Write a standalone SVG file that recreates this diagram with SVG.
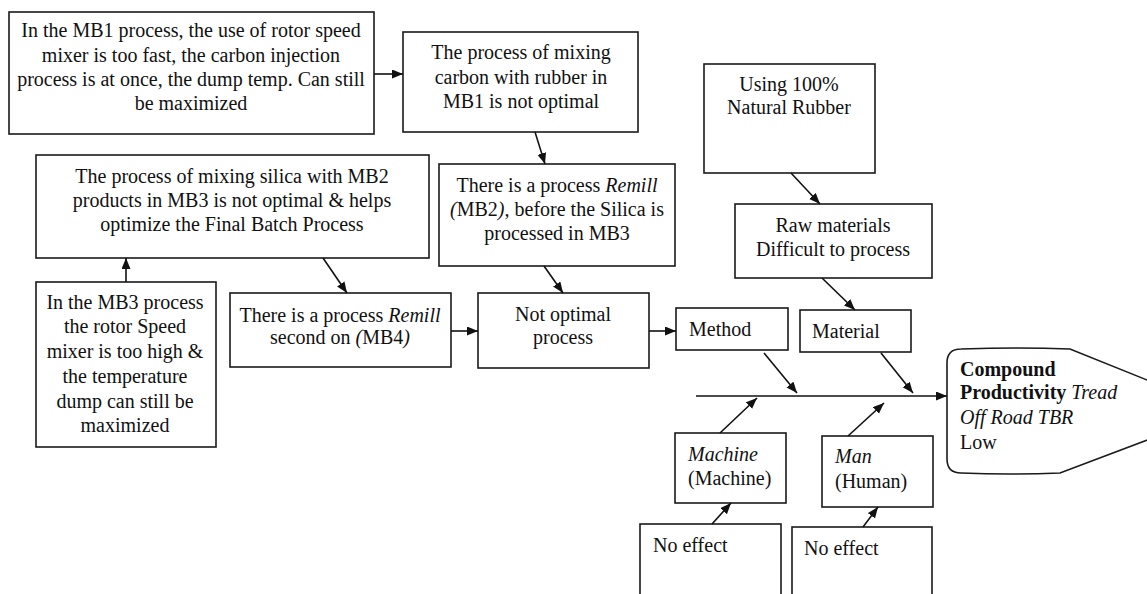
<svg xmlns="http://www.w3.org/2000/svg" width="1147" height="594" viewBox="0 0 1147 594">
<defs>
<style>
.box{fill:#fff;stroke:#1a1a1a;stroke-width:1.6}
.t{font-family:'Liberation Serif','DejaVu Serif',serif;font-size:20px;fill:#111}
.c{text-anchor:middle}
.i{font-style:italic}
.b{font-weight:bold}
.ln{stroke:#111;stroke-width:1.6;fill:none;marker-end:url(#ah)}
</style>
<marker id="ah" markerUnits="userSpaceOnUse" markerWidth="12" markerHeight="10" refX="11" refY="4.5" orient="auto">
<path d="M0,0 L11,4.5 L0,9 Z" fill="#111"/>
</marker>
</defs>
<rect width="1147" height="594" fill="#fff"/>

<g id="n1">
<rect class="box" x="9" y="12" width="365" height="122"/>
<text class="t c" x="191" y="37">In the MB1 process, the use of rotor speed</text>
<text class="t c" x="191" y="61.5">mixer is too fast, the carbon injection</text>
<text class="t c" x="191" y="86">process is at once, the dump temp. Can still</text>
<text class="t c" x="191" y="110">be maximized</text>
</g>

<g id="n2">
<rect class="box" x="403" y="32" width="235" height="100"/>
<text class="t c" x="521" y="59">The process of mixing</text>
<text class="t c" x="521" y="84">carbon with rubber in</text>
<text class="t c" x="521" y="108">MB1 is not optimal</text>
</g>

<g id="n3">
<rect class="box" x="439" y="164" width="236" height="102"/>
<text class="t c" x="557" y="192">There is a process <tspan class="i">Remill</tspan></text>
<text class="t c" x="557" y="216"><tspan class="i">(</tspan>MB2<tspan class="i">),</tspan> before the Silica is</text>
<text class="t c" x="557" y="240">processed in MB3</text>
</g>

<g id="n4">
<rect class="box" x="704" y="64" width="171" height="109"/>
<text class="t c" x="789" y="91">Using 100%</text>
<text class="t c" x="789" y="114">Natural Rubber</text>
</g>

<g id="n5">
<rect class="box" x="735" y="204" width="197" height="74"/>
<text class="t c" x="833" y="232">Raw materials</text>
<text class="t c" x="833" y="256">Difficult to process</text>
</g>

<g id="n6">
<rect class="box" x="36" y="155" width="393" height="103"/>
<text class="t c" x="232" y="183">The process of mixing silica with MB2</text>
<text class="t c" x="232" y="207">products in MB3 is not optimal &amp; helps</text>
<text class="t c" x="232" y="231">optimize the Final Batch Process</text>
</g>

<g id="n7">
<rect class="box" x="36" y="282" width="180" height="165"/>
<text class="t c" x="125" y="309">In the MB3 process</text>
<text class="t c" x="125" y="333">the rotor Speed</text>
<text class="t c" x="125" y="358">mixer is too high &amp;</text>
<text class="t c" x="125" y="383">the temperature</text>
<text class="t c" x="125" y="408">dump can still be</text>
<text class="t c" x="125" y="432">maximized</text>
</g>

<g id="n8">
<rect class="box" x="230" y="293" width="221" height="74"/>
<text class="t c" x="340" y="322">There is a process <tspan class="i">Remill</tspan></text>
<text class="t c" x="340" y="344">second on <tspan class="i">(</tspan>MB4<tspan class="i">)</tspan></text>
</g>

<g id="n9">
<rect class="box" x="478" y="293" width="171" height="75"/>
<text class="t c" x="563" y="321">Not optimal</text>
<text class="t c" x="563" y="344">process</text>
</g>

<g id="n10">
<rect class="box" x="676" y="308" width="112" height="42"/>
<text class="t" x="689" y="336">Method</text>
</g>

<g id="n11">
<rect class="box" x="800" y="310" width="111" height="42"/>
<text class="t" x="812" y="338">Material</text>
</g>

<g id="n12">
<rect class="box" x="675" y="433" width="111" height="70"/>
<text class="t i" x="688" y="461">Machine</text>
<text class="t" x="688" y="485">(Machine)</text>
</g>

<g id="n13">
<rect class="box" x="822" y="436" width="111" height="71"/>
<text class="t i" x="835" y="463">Man</text>
<text class="t" x="835" y="488">(Human)</text>
</g>

<g id="n14">
<rect class="box" x="640" y="524" width="141" height="80"/>
<text class="t" x="653" y="552">No effect</text>
</g>

<g id="n15">
<rect class="box" x="792" y="527" width="140" height="80"/>
<text class="t" x="804" y="555">No effect</text>
</g>

<g id="head">
<path class="box" d="M961,349 Q1020,347 1070,349 L1224,411 L1060,473 Q1010,475 961,473 Q947,473 947,459 L947,363 Q947,349 961,349 Z"/>
<text class="t b" x="960" y="376">Compound</text>
<text class="t" x="960" y="399"><tspan class="b">Productivity</tspan><tspan class="i"> Tread</tspan></text>
<text class="t i" x="960" y="424">Off Road TBR</text>
<text class="t" x="960" y="449">Low</text>
</g>

<g id="connectors">
<line class="ln" x1="374" y1="74" x2="403" y2="74"/>
<line class="ln" x1="535" y1="132" x2="545" y2="164"/>
<line class="ln" x1="544" y1="266" x2="563" y2="293"/>
<line class="ln" x1="791" y1="173" x2="820" y2="204"/>
<line class="ln" x1="822" y1="278" x2="855" y2="310"/>
<line class="ln" x1="323" y1="258" x2="347" y2="293"/>
<line class="ln" x1="126" y1="282" x2="126" y2="258"/>
<line class="ln" x1="451" y1="331" x2="478" y2="331"/>
<line class="ln" x1="649" y1="331" x2="676" y2="331"/>
<line class="ln" x1="764" y1="353" x2="797" y2="393"/>
<line class="ln" x1="881" y1="353" x2="913" y2="393"/>
<line class="ln" x1="696" y1="396" x2="947" y2="396"/>
<line class="ln" x1="720" y1="433" x2="757" y2="398"/>
<line class="ln" x1="848" y1="436" x2="884" y2="403"/>
<line class="ln" x1="712" y1="524" x2="731" y2="503"/>
<line class="ln" x1="863" y1="527" x2="878" y2="507"/>
</g>
</svg>
